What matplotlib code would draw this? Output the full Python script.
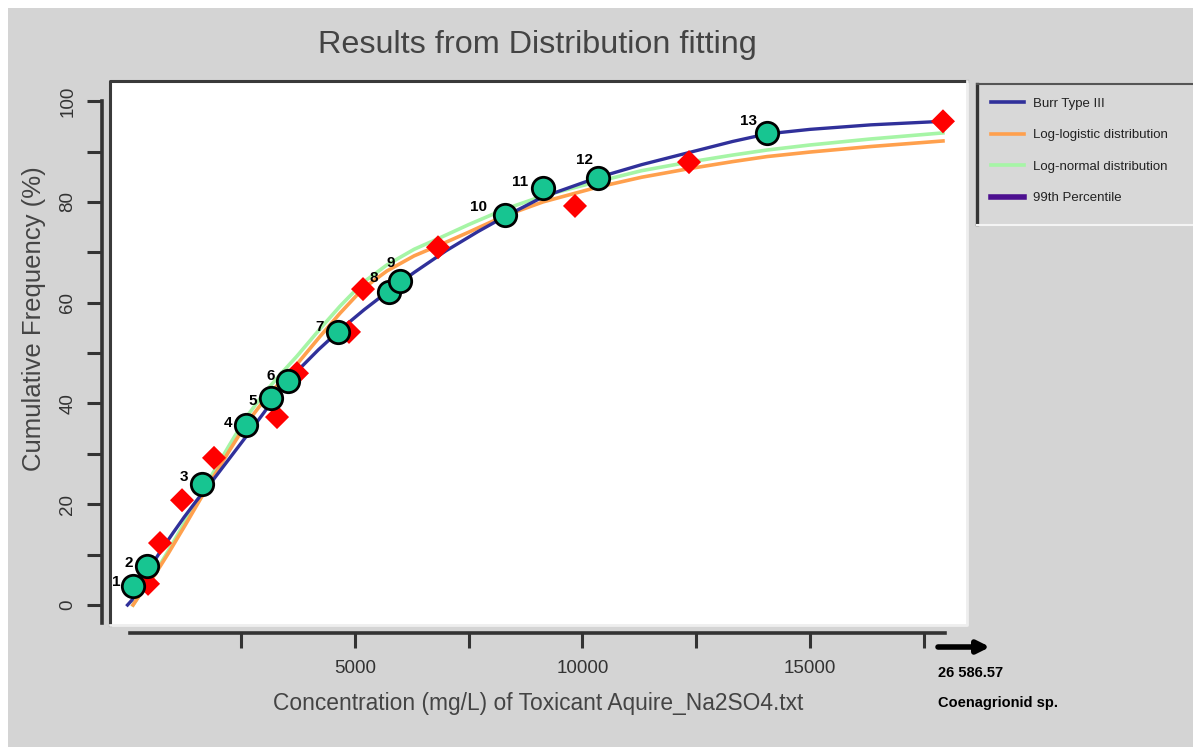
import matplotlib
matplotlib.use("Agg")
import matplotlib.pyplot as plt
from matplotlib.lines import Line2D

plt.rcParams['font.family'] = ['Liberation Sans', 'DejaVu Sans']

# ---------------- data ----------------
species_x = [121, 429, 1637, 2604, 3154, 3527, 4626, 5747, 5989, 8297, 9132, 10341, 14055]
species_y = [3.8, 7.7, 24.0, 35.7, 41.1, 44.4, 54.2, 62.1, 64.3, 77.4, 82.7, 84.7, 93.7]
species_labels = ['1', '2', '3', '4', '5', '6', '7', '8', '9', '10', '11', '12', '13']

fit_x = [451, 714, 1198, 1901, 3286, 3725, 4868, 5176, 6824, 9835, 12341, 17923]
fit_y = [4.2, 12.3, 20.8, 29.2, 37.3, 46.0, 54.2, 62.7, 71.0, 79.2, 87.9, 96.0]

burr_x = [0, 100, 250, 500, 750, 1000, 1250, 1500, 1879, 2250, 2604, 3000, 3352, 3750,
          4200, 4670, 5200, 5703, 6300, 7000, 7700, 8275, 9132, 10319, 11300, 12341,
          13300, 14055, 15000, 16341, 17923]
burr_y = [0.0, 1.0, 3.5, 7.5, 11.0, 14.3, 17.5, 20.5, 24.8, 29.2, 33.4, 38.2, 42.7, 46.6,
          50.7, 54.6, 58.6, 62.1, 66.0, 70.3, 74.1, 77.0, 81.0, 84.8, 87.4, 89.8,
          92.0, 93.5, 94.4, 95.3, 96.0]

loglog_x = [121, 300, 600, 900, 1264, 1600, 1879, 2250, 2604, 3000, 3352, 3725, 4231,
            4670, 5176, 5703, 6300, 6824, 7500, 8275, 9132, 10319, 11300, 12341, 13300,
            14055, 15000, 16341, 17923]
loglog_y = [0.0, 2.4, 6.0, 10.3, 15.8, 21.0, 25.3, 30.8, 35.9, 40.6, 44.2, 47.8, 53.3,
            57.9, 62.8, 66.3, 69.3, 71.3, 74.0, 77.2, 80.0, 82.9, 84.9, 86.6, 88.0,
            89.0, 89.9, 91.0, 92.1]

lognorm_x = [121, 300, 600, 900, 1264, 1600, 1879, 2250, 2604, 3000, 3352, 3725, 4231,
             4670, 5176, 5703, 6300, 6824, 7500, 8275, 9132, 10319, 11300, 12341, 13300,
             14055, 15000, 16341, 17923]
lognorm_y = [0.0, 2.5, 6.3, 10.8, 16.5, 21.8, 26.2, 31.9, 37.2, 42.0, 45.7, 49.4, 54.8,
             59.3, 64.0, 67.5, 70.6, 72.7, 75.5, 78.5, 81.2, 84.0, 86.2, 87.9, 89.3,
             90.3, 91.3, 92.5, 93.7]

legend_labels = ['Burr Type III', 'Log-logistic distribution', 'Log-normal distribution', '99th Percentile']
x_major = [5000, 10000, 15000]
x_minor = [2500, 7500, 12500, 17500]
y_major = [0, 20, 40, 60, 80, 100]
y_minor = [10, 30, 50, 70, 90]

# ---------------- figure ----------------
W, H = 1193, 747
fig = plt.figure(figsize=(W / 100, H / 100), dpi=100)
bg = '#d4d4d4'
fig.patch.set_facecolor(bg)

# white edge strips (top / left) of the screenshot
fig.add_artist(plt.Rectangle((0, 1 - 8 / H), 1, 8 / H, transform=fig.transFigure,
                             facecolor='white', edgecolor='none', zorder=0))
fig.add_artist(plt.Rectangle((0, 0), 8 / W, 1, transform=fig.transFigure,
                             facecolor='white', edgecolor='none', zorder=0))

L, R, T, B = 110, 967, 81, 625
ax = fig.add_axes([L / W, 1 - B / H, (R - L) / W, (B - T) / H])
ax.set_facecolor('white')
ax.set_xlim(-385, 18451)
ax.set_ylim(-3.97, 104.0)

col_blue = '#30309a'
col_orange = '#ffa04d'
col_green = '#a6f5a6'
col_purple = '#4d1090'

ax.plot(lognorm_x, lognorm_y, color=col_green, lw=2.6, zorder=2, solid_joinstyle='round')
ax.plot(loglog_x, loglog_y, color=col_orange, lw=2.6, zorder=3, solid_joinstyle='round')
ax.plot(burr_x, burr_y, color=col_blue, lw=2.4, zorder=4, solid_joinstyle='round')

ax.scatter(fit_x, fit_y, marker='D', s=150, color='#ff0000', edgecolors='none', zorder=5)
ax.scatter(species_x, species_y, marker='o', s=260, color='#17c591', edgecolors='black',
           linewidths=2.0, zorder=6)

label_offsets = [(-17, 4), (-18, 3), (-18, 7), (-18, 2), (-18, -3), (-17, 5), (-18, 5),
                 (-15, 14), (-9, 18), (-27, 8), (-23, 6), (-14, 18), (-18, 12)]
for xv, yv, lab, off in zip(species_x, species_y, species_labels, label_offsets):
    ax.annotate(lab, (xv, yv), xytext=off, textcoords='offset pixels', ha='center', va='center',
                fontsize=11, fontweight='bold', color='black', zorder=7)

# spines / axes
for s in ['top', 'right']:
    ax.spines[s].set_visible(False)
ax.spines['left'].set_position(('outward', 8 * 0.72))
ax.spines['left'].set_bounds(-3.6, 100)
ax.spines['left'].set_linewidth(2.6)
ax.spines['left'].set_color('#333333')
ax.spines['bottom'].set_position(('outward', 8 * 0.72))
ax.spines['bottom'].set_bounds(50, 17970)
ax.spines['bottom'].set_linewidth(2.6)
ax.spines['bottom'].set_color('#333333')

ax.set_xticks(x_major)
ax.set_xticks(x_minor, minor=True)
ax.set_yticks(y_major)
ax.set_yticks(y_minor, minor=True)
ax.tick_params(axis='both', which='both', direction='out', length=10.5, width=2.2,
               color='#333333', labelcolor='#333333', labelsize=13.5)
ax.tick_params(axis='x', which='both', pad=9)
ax.tick_params(axis='y', which='both', pad=8, labelrotation=90)
for t in ax.get_yticklabels():
    t.set_va('center')

# box borders: dark left/top, light right/bottom
ax.plot([0, 0, 1], [0, 1, 1], transform=ax.transAxes, color='#3a3a3a', lw=2.2,
        clip_on=False, zorder=10)
ax.plot([0, 1, 1], [0, 0, 1], transform=ax.transAxes, color='#eeeeee', lw=2.0,
        clip_on=False, zorder=10)

ax.set_xlabel('Concentration (mg/L) of Toxicant Aquire_Na2SO4.txt', fontsize=16.4,
              color='#444444', labelpad=11)
ax.set_ylabel('Cumulative Frequency (%)', fontsize=18.5, color='#444444')
ax.yaxis.set_label_coords(-0.075, 0.564)

fig.text(537 / W, 1 - 45 / H, 'Results from Distribution fitting', fontsize=23.3,
         color='#444444', ha='center', va='center')

# legend (box runs on to the right edge of the picture)
fig.add_artist(plt.Rectangle((977 / W, 1 - 224 / H), 1 - 977 / W, 140 / H,
                             transform=fig.transFigure, facecolor='#d8d8d8',
                             edgecolor='none', zorder=1))
handles = [Line2D([], [], color=col_blue, lw=2.6),
           Line2D([], [], color=col_orange, lw=2.6),
           Line2D([], [], color=col_green, lw=2.6),
           Line2D([], [], color=col_purple, lw=4.0)]
leg = fig.legend(handles, legend_labels, loc='upper left',
                 bbox_to_anchor=(977 / W, 1 - 84 / H), frameon=False, fontsize=9.5,
                 handlelength=2.5, handletextpad=0.68, labelspacing=1.45,
                 borderpad=1.05, borderaxespad=0)
for t in leg.get_texts():
    t.set_color('#222222')
fig.add_artist(Line2D([977 / W, 977 / W], [1 - 84 / H, 1 - 224 / H], transform=fig.transFigure,
                      color='#333333', lw=2.4))
fig.add_artist(Line2D([977 / W, 1], [1 - 84 / H, 1 - 84 / H], transform=fig.transFigure,
                      color='#555555', lw=1.5))
fig.add_artist(Line2D([977 / W, 1], [1 - 225 / H, 1 - 225 / H], transform=fig.transFigure,
                      color='#f4f4f4', lw=1.5))

# arrow + annotation at the right of the x axis
ax.annotate('', xy=(990 / W, 1 - 647 / H), xytext=(938 / W, 1 - 647 / H),
            xycoords='figure fraction', textcoords='figure fraction',
            arrowprops=dict(arrowstyle='-|>', color='black', lw=4, mutation_scale=18,
                            shrinkA=0, shrinkB=0))
fig.text(938 / W, 1 - 673 / H, '26 586.57', fontsize=10.5, fontweight='bold', color='black',
         ha='left', va='center')
fig.text(938 / W, 1 - 703 / H, 'Coenagrionid sp.', fontsize=10.5, fontweight='bold',
         color='black', ha='left', va='center')

fig.savefig('out.png', dpi=100, facecolor=fig.get_facecolor())
